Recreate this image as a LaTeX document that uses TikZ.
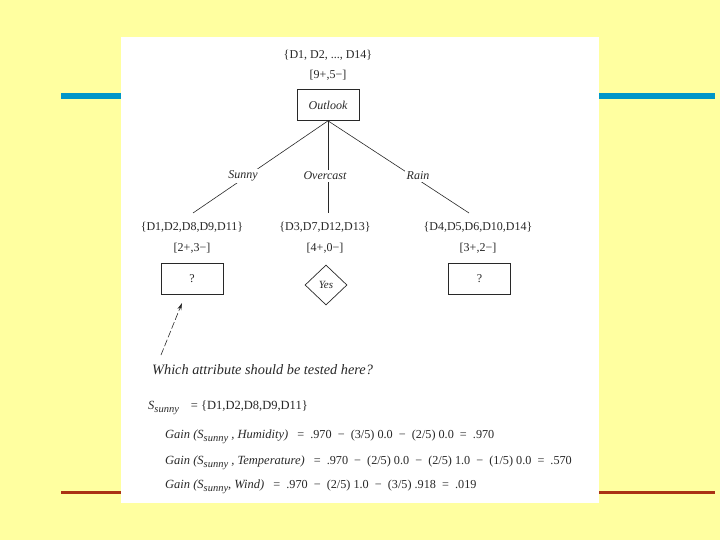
\documentclass[tikz,border=0pt]{standalone}
\usepackage{fontspec}
\setmainfont{Liberation Serif}
\usetikzlibrary{shapes.geometric,arrows.meta}
\definecolor{bgyellow}{RGB}{255,255,160}
\definecolor{barblue}{RGB}{0,150,200}
\definecolor{barred}{RGB}{170,50,20}
\definecolor{ink}{RGB}{40,40,40}
\newcommand{\Ssunnysub}[1]{{\itshape S\raisebox{-0.45ex}{\fontsize{#1}{#1}\selectfont sunny}}}
\tikzset{
  settext/.style={inner sep=0pt, text=ink, font=\fontsize{12}{14}\selectfont},
  branch/.style={inner sep=1.5pt, fill=white, text=ink, font=\fontsize{12}{14}\selectfont\itshape},
  testbox/.style={draw=ink, line width=0.7pt, minimum width=62pt, minimum height=31pt, inner sep=0pt, text=ink},
  leafdiamond/.style={draw=ink, line width=0.7pt, diamond, minimum width=42pt, minimum height=40pt, inner sep=0pt, text=ink, font=\fontsize{11}{13}\selectfont\itshape},
  treeline/.style={draw=ink, line width=0.6pt},
  formula/.style={anchor=west, inner sep=0pt, text=ink, font=\fontsize{12.2}{14}\selectfont},
  gainpart/.style={font=\fontsize{12.5}{14}\selectfont\itshape},
}
\newcommand{\gainlabel}[1]{{\fontsize{12.5}{14}\selectfont\itshape #1}}
\begin{document}
\begin{tikzpicture}[x=1pt,y=-1pt]
\useasboundingbox (0,0) rectangle (720,540);
\fill[bgyellow] (0,0) rectangle (720,540);
\draw[barblue, line width=6pt] (61,96) -- (715,96);
\draw[barred, line width=3pt] (61,492) -- (715,492);
\fill[white] (121,37) rectangle (599,503);

% root
\node[settext] (rootset) at (328,55) {\{D1, D2, ..., D14\}};
\node[settext] (rootcnt) at (328,75) {[9+,5−]};
\node[testbox, font=\fontsize{12}{14}\selectfont\itshape] (outlook) at (328,105) {Outlook};

% branch ends
\coordinate (e1) at (193,213);
\coordinate (e2) at (328,213);
\coordinate (e3) at (469,213);
\draw[treeline] (outlook.south) -- (e1);
\draw[treeline] (outlook.south) -- (e2);
\draw[treeline] (outlook.south) -- (e3);
\node[branch] (lsunny) at (243,176) {Sunny};
\node[branch] (lover) at (325,176) {Overcast};
\node[branch] (lrain) at (418,176) {Rain};

% children sets
\node[settext] (s1) at (192,227) {\{D1,D2,D8,D9,D11\}};
\node[settext] (s2) at (325,227) {\{D3,D7,D12,D13\}};
\node[settext] (s3) at (478,227) {\{D4,D5,D6,D10,D14\}};
\node[settext] (c1) at (192,248) {[2+,3−]};
\node[settext] (c2) at (325,248) {[4+,0−]};
\node[settext] (c3) at (478,248) {[3+,2−]};

% children nodes
\node[testbox, font=\fontsize{12}{14}\selectfont] (q1) at (192,278.5) {?};
\node[leafdiamond] (yes) at (326,285) {Yes};
\node[testbox, font=\fontsize{12}{14}\selectfont] (q3) at (479.5,278.5) {?};

% question
\node[anchor=west, inner sep=0pt, text=ink, font=\fontsize{14.3}{16}\selectfont\itshape] (question) at (152,370) {Which attribute should be tested here?};
\coordinate (atail) at (161,355);
\coordinate (ahead) at (182,303);
\draw[treeline, dash pattern=on 7pt off 2.5pt, -{Stealth[length=7pt,width=4pt]}] (atail) -- (ahead);

% formulas
\node[formula, font=\fontsize{12.5}{14}\selectfont] (ssunny) at (148,408) {\Ssunnysub{10.5}\hspace{12pt}= \{D1,D2,D8,D9,D11\}};
\node[formula] (g1) at (165,437) {\gainlabel{Gain (\Ssunnysub{10.5}\ , Humidity)}\hspace{6pt} = \ .970 \ − \ (3/5) 0.0 \ − \ (2/5) 0.0 \ = \ .970};
\node[formula] (g2) at (165,463) {\gainlabel{Gain (\Ssunnysub{10.5}\ , Temperature)}\hspace{6pt} = \ .970 \ − \ (2/5) 0.0 \ − \ (2/5) 1.0 \ − \ (1/5) 0.0 \ = \ .570};
\node[formula] (g3) at (165,487) {\gainlabel{Gain (\Ssunnysub{10.5}, Wind)}\hspace{6pt} = \ .970 \ − \ (2/5) 1.0 \ − \ (3/5) .918 \ = \ .019};
\end{tikzpicture}
\end{document}
